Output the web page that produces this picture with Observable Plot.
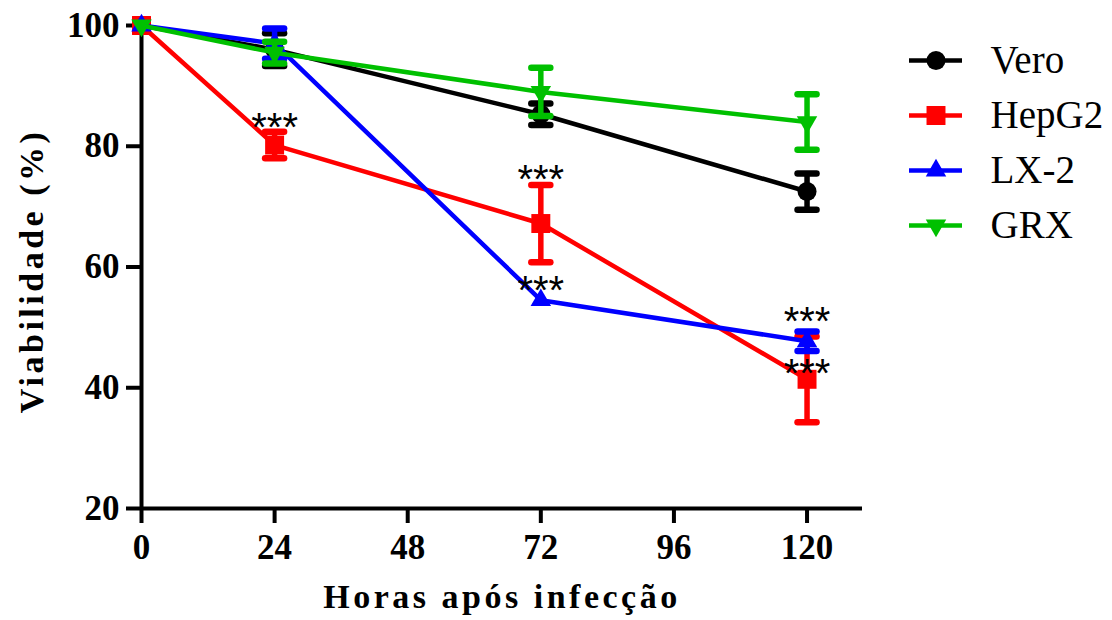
<!DOCTYPE html>
<html><head><meta charset="utf-8">
<script src="https://cdn.jsdelivr.net/npm/d3@7"></script>
<script src="https://cdn.jsdelivr.net/npm/@observablehq/plot@0.6"></script>
<style>
body{margin:0;background:#fff}
#wrap{position:relative;width:1112px;height:620px;background:#fff}
#chart{position:absolute;left:0;top:0}
#legend{position:absolute;left:880px;top:0}
</style>
</head><body><div id="wrap"><div id="chart"></div><div id="legend"></div></div>
<script>
// ---- data ----
const hours = [0, 24, 72, 120];
const seriesNames = ["Vero", "HepG2", "LX-2", "GRX"];
const seriesColors = ["#000000", "#FF0000", "#0000FF", "#00C000"];
const seriesSymbols = ["circle", "square", "triangle", "triangle"];
const seriesRotate = [0, 0, 0, 180];
const seriesR = [9.5, 10.7, 7.6, 7.6];
const veroMean = [100, 96.0, 85.3, 72.5];
const veroErr = [0, 2.7, 1.8, 3.0];
const hepg2Mean = [100, 80.2, 67.2, 41.4];
const hepg2Err = [0, 2.2, 6.4, 7.1];
const lx2Mean = [100, 97.0, 54.5, 47.7];
const lx2Err = [0, 2.5, 0, 1.6];
const grxMean = [100, 95.5, 89.0, 84.0];
const grxErr = [0, 1.8, 4.0, 4.6];
const means = [veroMean, hepg2Mean, lx2Mean, grxMean];
const errs = [veroErr, hepg2Err, lx2Err, grxErr];
const xTicks = [0, 24, 48, 72, 96, 120];
const yTicks = [20, 40, 60, 80, 100];
const starHours = [24, 72, 72, 120, 120];
const starValues = [84.6, 76.0, 57.6, 52.5, 43.9];
const starLabel = "***";
const xLabel = "Horas após infecção";
const yLabel = "Viabilidade (%)";

// ---- build ----
const capSymbol = {draw(ctx) { ctx.moveTo(-9.5, 0); ctx.lineTo(9.5, 0); }};
const serif = "'Liberation Serif', 'Times New Roman', serif";

const seriesMarks = [];
seriesNames.forEach((name, i) => {
  const rows = hours.map((h, j) => ({h, v: means[i][j], e: errs[i][j]}));
  const eb = rows.filter(d => d.e > 0);
  seriesMarks.push(
    Plot.line(rows, {x: "h", y: "v", stroke: seriesColors[i], strokeWidth: 4.5}),
    Plot.ruleX(eb, {x: "h", y1: d => d.v - d.e, y2: d => d.v + d.e, stroke: seriesColors[i], strokeWidth: 5.5}),
    Plot.dot(eb, {x: "h", y: d => d.v + d.e, symbol: capSymbol, stroke: seriesColors[i], strokeWidth: 6.5, strokeLinecap: "round", fill: "none"}),
    Plot.dot(eb, {x: "h", y: d => d.v - d.e, symbol: capSymbol, stroke: seriesColors[i], strokeWidth: 6.5, strokeLinecap: "round", fill: "none"}),
    Plot.dot(rows, {x: "h", y: "v", symbol: seriesSymbols[i], rotate: seriesRotate[i], r: seriesR[i], fill: seriesColors[i], stroke: "none"})
  );
});

const stars = starHours.map((h, i) => ({h, v: starValues[i]}));

const chart = Plot.plot({
  width: 1112, height: 620,
  marginLeft: 141, marginRight: 250, marginTop: 25, marginBottom: 112,
  x: {domain: [0, 130]},
  y: {domain: [20, 100]},
  style: {fontFamily: serif, background: "white", color: "black"},
  marks: [
    Plot.axisX({ticks: xTicks, tickSize: 15, tickPadding: 11, strokeWidth: 4, fontSize: 35, fontWeight: "bold", label: null, tickFormat: d => String(d)}),
    Plot.axisY({ticks: yTicks, tickSize: 15, tickPadding: 7, strokeWidth: 4, fontSize: 35, fontWeight: "bold", label: null, tickFormat: d => String(d)}),
    Plot.ruleY([20], {strokeWidth: 4}),
    Plot.ruleX([0], {strokeWidth: 4}),
    ...seriesMarks,
    Plot.text(stars, {x: "h", y: "v", text: () => starLabel, fontFamily: "'Liberation Sans', Arial, sans-serif", fontSize: 40, lineAnchor: "middle", dy: 10, fill: "black"}),
    Plot.text([xLabel], {text: d => d, frameAnchor: "bottom", textAnchor: "middle", dy: 99, lineAnchor: "bottom", fontSize: 34, fontWeight: "bold", fill: "black"}),
    Plot.text([yLabel], {text: d => d, frameAnchor: "left", textAnchor: "middle", dx: -99, dy: 4, rotate: -90, lineAnchor: "bottom", fontSize: 34, fontWeight: "bold", fill: "black"})
  ]
});
d3.select(chart).selectAll("text").filter(function() {
  return this.textContent === xLabel || this.textContent === yLabel;
}).style("letter-spacing", "3.5px");
document.getElementById("chart").appendChild(chart);

// ---- legend ----
const legendMarks = [];
seriesNames.forEach((name, i) => {
  legendMarks.push(
    Plot.ruleY([name], {y: d => d, x1: 0, x2: 1, stroke: seriesColors[i], strokeWidth: 4.5}),
    Plot.dot([name], {y: d => d, x: 0.5, symbol: seriesSymbols[i], rotate: seriesRotate[i], r: seriesR[i], fill: seriesColors[i], stroke: "none"}),
    Plot.text([name], {y: d => d, x: 1, text: d => d, dx: 28, textAnchor: "start", lineAnchor: "middle", fontSize: 39, fill: "black"})
  );
});
const legend = Plot.plot({
  width: 232, height: 260,
  margin: 0,
  x: {domain: [0, 1], range: [29, 82], axis: null},
  y: {type: "point", domain: seriesNames, range: [60, 225], padding: 0, axis: null},
  style: {fontFamily: serif, background: "transparent", overflow: "visible"},
  marks: legendMarks
});
document.getElementById("legend").appendChild(legend);
</script>
</body></html>
